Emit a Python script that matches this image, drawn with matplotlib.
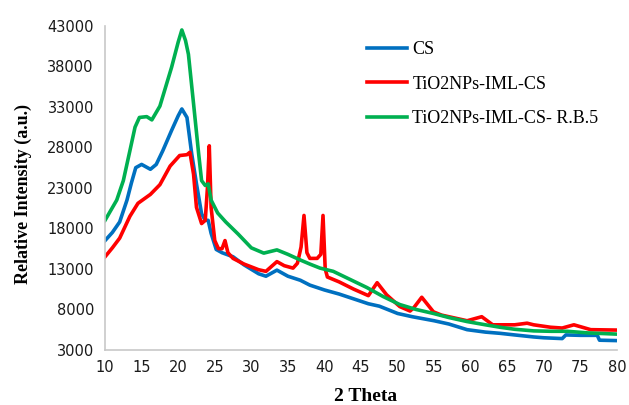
import numpy as np
import matplotlib
matplotlib.use("Agg")
from matplotlib import pyplot as plt

# XRD patterns
cs_x = [10, 11, 12, 13, 13.6, 14.2, 15, 16.2, 17, 17.9, 19.1, 20, 20.5, 21.2, 21.85, 22.5, 23.2,
        23.7, 24.1, 24.5, 25.2, 26, 27.5, 29, 31, 32, 33.5, 35, 36.7, 38, 40, 42, 44, 46, 47.5,
        50, 52, 55, 57, 59.5, 62, 64, 66, 68.6, 70, 72.5, 73, 75, 77.3, 77.6, 80]
cs_y = [16500, 17500, 18800, 21500, 23600, 25500, 25900, 25300, 25900, 27600, 30100, 31900, 32750,
        31700, 27200, 23500, 19800, 19000, 19000, 17400, 15400, 15000, 14500, 13500,
        12400, 12100, 12850, 12100, 11600, 11000, 10400, 9900, 9300, 8700, 8400, 7500, 7100, 6600,
        6200, 5500, 5200, 5050, 4850, 4600, 4500, 4400, 4850, 4800, 4800, 4200, 4150]

tio2_x = [10, 11, 12, 13.4, 14.5, 16.2, 17.5, 18.9, 20.2, 21.2, 21.6, 22.1, 22.5, 23.2, 23.7,
          24.0, 24.25, 24.5, 25.0, 25.5, 26.0, 26.4, 26.8, 27.5, 29, 31, 32, 33.5, 34.5, 35.7, 36.3,
          36.8, 37.2, 37.6, 38, 39, 39.5, 39.8, 40.1, 40.4, 42, 44, 45.5, 46, 47.2, 48.5, 50.3, 51.7,
          52.2, 53.3, 54.9, 56, 58, 59.5, 61.5, 63, 66, 67.7, 68.6, 70.9, 72.5, 74.1, 76.4, 80]
tio2_y = [14500, 15600, 16800, 19500, 21100, 22200, 23400, 25700, 27000, 27100, 27400, 24700,
          20600, 18600, 19000, 23000, 28200, 20600, 16500, 15500, 15500, 16500, 15000,
          14300, 13600, 12900, 12700, 13900, 13400, 13100, 13700, 15700, 19600, 15000, 14300, 14300,
          14800, 19600, 13000, 12000, 11400, 10500, 9900, 9700, 11300, 9800, 8350, 7800, 8200, 9500,
          7700, 7300, 6900, 6600, 7100, 6100, 6100, 6300, 6100, 5800, 5700, 6100, 5500, 5450]

rb5_x = [10, 11.6, 12.5, 13.4, 14.1, 14.7, 15.7, 16.4, 17.5, 18.4, 19.1, 20, 20.5, 21, 21.4,
         22.1, 22.8, 23.2, 23.7, 24.1, 24.5, 25.4, 26.5, 28.2, 30, 31.7, 33.5, 35, 36.7, 38,
         39.4, 41.2, 43.5, 45.8, 48, 50.3, 52.5, 54.9, 57, 59.5, 62, 64, 66, 68.6, 71, 73.2, 76, 80]
rb5_y = [19000, 21500, 23900, 27600, 30500, 31700, 31800, 31400, 33100, 35800, 37900, 41000,
         42500, 41200, 39500, 33400, 27200, 23900, 23300, 23500, 21500, 19900, 18800, 17300,
         15600, 14950, 15350, 14800, 14100, 13600, 13100, 12700, 11700, 10700, 9600, 8600, 8000,
         7500, 7000, 6500, 6100, 5800, 5550, 5350, 5300, 5300, 5100, 4950]

labels = ["CS", "TiO2NPs-IML-CS", "TiO2NPs-IML-CS- R.B.5"]
colors = ["#0070C0", "#FF0000", "#00B050"]

fig = plt.figure(figsize=(6.29, 4.05), dpi=100)
ax = fig.add_axes([0.167, 0.136, 0.814, 0.800])

ax.plot(cs_x, cs_y, color=colors[0], lw=2.6, label=labels[0])
ax.plot(tio2_x, tio2_y, color=colors[1], lw=2.6, label=labels[1])
ax.plot(rb5_x, rb5_y, color=colors[2], lw=2.6, label=labels[2])

ax.set_xlim(10, 80)
ax.set_ylim(3000, 43000)
ax.set_xticks(np.arange(10, 81, 5))
ax.set_yticks(np.arange(3000, 43001, 5000))
ax.tick_params(length=0, labelsize=10.5)
ax.tick_params(axis="y", pad=8)
ax.tick_params(axis="x", pad=7)
for lab in ax.get_xticklabels() + ax.get_yticklabels():
    lab.set_family("DejaVu Sans")
    lab.set_color("#1a1a1a")

for s in ["top", "right"]:
    ax.spines[s].set_visible(False)
for s in ["left", "bottom"]:
    ax.spines[s].set_color("#c8c8c8")
    ax.spines[s].set_linewidth(1.2)

ax.set_xlabel("2 Theta", fontsize=14, fontweight="bold", family="Liberation Serif")
ax.xaxis.label.set_va("baseline")
ax.xaxis.set_label_coords(0.508, -0.158)
ax.set_ylabel("Relative Intensity (a.u.)", fontsize=13, fontweight="bold",
              family="Liberation Serif")
ax.yaxis.set_label_coords(-0.143, 0.48)

ax.legend(loc="upper left", bbox_to_anchor=(0.48, 1.003), frameon=False,
          prop={"family": "Liberation Serif", "size": 13}, handlelength=2.2,
          handletextpad=0.3, labelspacing=0.97)

fig.savefig("out.png", dpi=100)
